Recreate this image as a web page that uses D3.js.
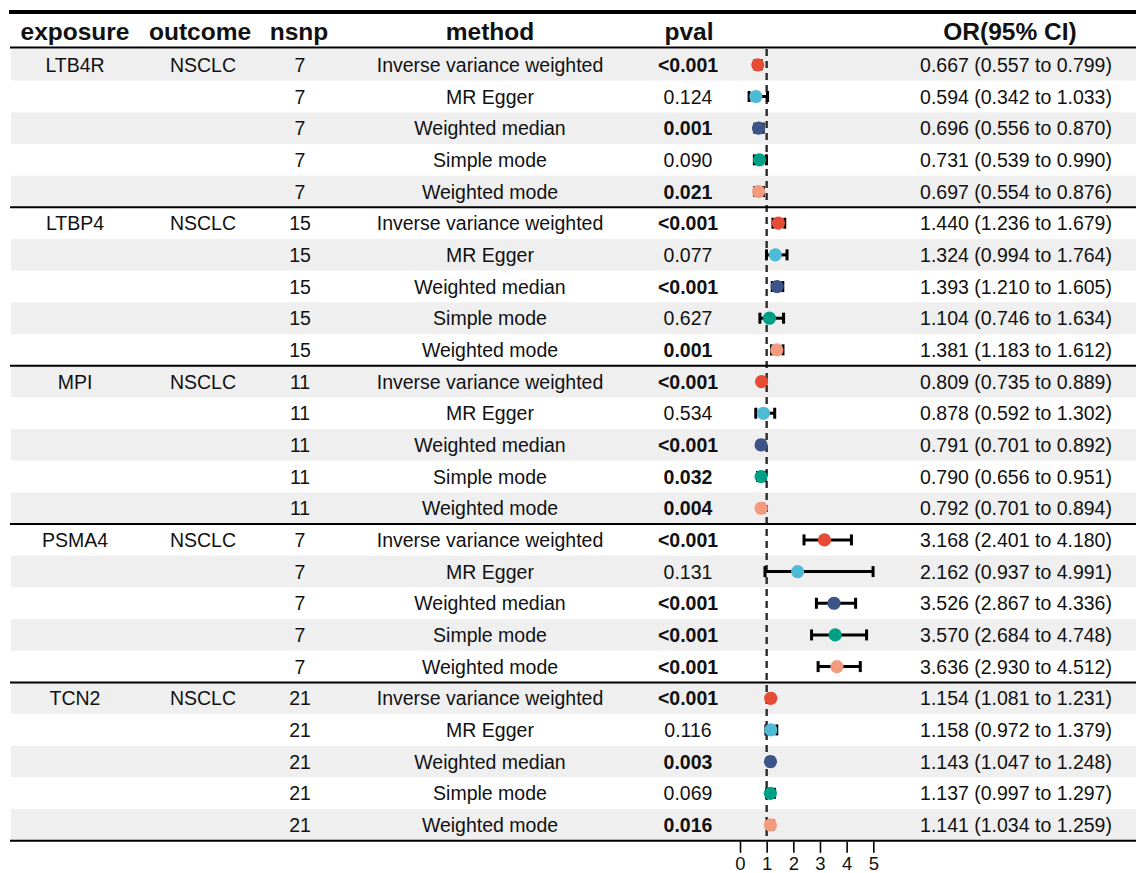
<!DOCTYPE html>
<html>
<head>
<meta charset="utf-8">
<script src="https://cdn.jsdelivr.net/npm/d3@7"></script>
<style>
  html, body { margin: 0; padding: 0; background: #fff; }
  svg { display: block; font-family: "Liberation Sans", Arial, Helvetica, sans-serif; }
</style>
</head>
<body>
<svg id="chart" width="1136" height="873"></svg>
<script>
// Mendelian randomization results: five exposures, five methods each
const exposures = ["LTB4R", "LTBP4", "MPI", "PSMA4", "TCN2"];
const outcomes = ["NSCLC", "NSCLC", "NSCLC", "NSCLC", "NSCLC"];
const nsnp = [7, 15, 11, 7, 21];
const methods = ["Inverse variance weighted", "MR Egger", "Weighted median", "Simple mode", "Weighted mode"];
const methodColors = ["#E64B35", "#4DBBD5", "#3C5488", "#00A087", "#F39B7F"];

const pvals = [
  "<0.001", "0.124", "0.001", "0.090", "0.021",
  "<0.001", "0.077", "<0.001", "0.627", "0.001",
  "<0.001", "0.534", "<0.001", "0.032", "0.004",
  "<0.001", "0.131", "<0.001", "<0.001", "<0.001",
  "<0.001", "0.116", "0.003", "0.069", "0.016"
];
const orValues = [
  0.667, 0.594, 0.696, 0.731, 0.697,
  1.440, 1.324, 1.393, 1.104, 1.381,
  0.809, 0.878, 0.791, 0.790, 0.792,
  3.168, 2.162, 3.526, 3.570, 3.636,
  1.154, 1.158, 1.143, 1.137, 1.141
];
const ciLower = [
  0.557, 0.342, 0.556, 0.539, 0.554,
  1.236, 0.994, 1.210, 0.746, 1.183,
  0.735, 0.592, 0.701, 0.656, 0.701,
  2.401, 0.937, 2.867, 2.684, 2.930,
  1.081, 0.972, 1.047, 0.997, 1.034
];
const ciUpper = [
  0.799, 1.033, 0.870, 0.990, 0.876,
  1.679, 1.764, 1.605, 1.634, 1.612,
  0.889, 1.302, 0.892, 0.951, 0.894,
  4.180, 4.991, 4.336, 4.748, 4.512,
  1.231, 1.379, 1.248, 1.297, 1.259
];
const xTicks = [0, 1, 2, 3, 4, 5];
const headers = ["exposure", "outcome", "nsnp", "method", "pval", "OR(95% CI)"];

// Build row records
const rows = [];
exposures.forEach((exp, g) => {
  methods.forEach((m, k) => {
    const i = g * methods.length + k;
    rows.push({
      i, g, k,
      exposure: k === 0 ? exp : "",
      outcome: k === 0 ? outcomes[g] : "",
      nsnp: String(nsnp[g]),
      method: m,
      pval: pvals[i],
      or: orValues[i], lo: ciLower[i], hi: ciUpper[i],
      color: methodColors[k]
    });
  });
});

const fmt = d3.format(".3f");
const orLabel = d => `${fmt(d.or)} (${fmt(d.lo)} to ${fmt(d.hi)})`;
const isSig = p => p.startsWith("<") || parseFloat(p) < 0.05;

const svg = d3.select("#chart");
const W = 1136;
const tableLeft = 10;
const tableTop = 49;
const tableBottom = 840.8;

const y = d3.scaleBand().domain(d3.range(rows.length)).range([tableTop, tableBottom]);
const x = d3.scaleLinear().domain([0, 5]).range([740, 873.3]);

// Column centres for the text columns
const colX = { exposure: 75, outcome: 203, nsnp: 300, method: 490, pval: 688, or: 1016 };
const headX = [75, 200, 299, 490, 689, 1010];

// Alternating row shading
svg.append("g").selectAll("rect")
  .data(rows)
  .join("rect")
  .attr("x", tableLeft + 1)
  .attr("y", d => y(d.i))
  .attr("width", W - tableLeft - 1)
  .attr("height", y.bandwidth())
  .attr("fill", d => d.i % 2 === 0 ? "#efefef" : "#ffffff");

// Header labels
svg.append("g").selectAll("text")
  .data(headers)
  .join("text")
  .attr("x", (d, j) => headX[j])
  .attr("y", 40)
  .attr("text-anchor", "middle")
  .attr("font-size", 24.5)
  .attr("font-weight", "bold")
  .attr("fill", "#111")
  .text(d => d);

// Table body text
const body = svg.append("g").attr("font-size", 19.5).attr("fill", "#111").attr("text-anchor", "middle");
const textCols = ["exposure", "outcome", "nsnp", "method"];
textCols.forEach(c => {
  body.append("g").selectAll("text")
    .data(rows.filter(r => r[c] !== ""))
    .join("text")
    .attr("x", colX[c])
    .attr("y", d => y(d.i) + y.bandwidth() / 2)
    .attr("dy", "0.36em")
    .text(d => d[c]);
});
body.append("g").selectAll("text")
  .data(rows)
  .join("text")
  .attr("x", colX.pval)
  .attr("y", d => y(d.i) + y.bandwidth() / 2)
  .attr("dy", "0.36em")
  .attr("font-weight", d => isSig(d.pval) ? "bold" : "normal")
  .text(d => d.pval);
body.append("g").selectAll("text")
  .data(rows)
  .join("text")
  .attr("x", colX.or)
  .attr("y", d => y(d.i) + y.bandwidth() / 2)
  .attr("dy", "0.36em")
  .text(d => orLabel(d));

// Reference line at OR = 1
svg.append("line")
  .attr("x1", x(1)).attr("x2", x(1))
  .attr("y1", tableTop).attr("y2", tableBottom)
  .attr("stroke", "#2b2b2b")
  .attr("stroke-width", 2.4)
  .attr("stroke-dasharray", "7,5");

// Confidence intervals with end caps
const ci = svg.append("g").attr("stroke", "#000").attr("stroke-width", 3);
const cy = d => y(d.i) + y.bandwidth() / 2;
ci.selectAll("line.bar")
  .data(rows)
  .join("line")
  .attr("class", "bar")
  .attr("x1", d => x(d.lo)).attr("x2", d => x(d.hi))
  .attr("y1", cy).attr("y2", cy);
ci.selectAll("line.capl")
  .data(rows)
  .join("line")
  .attr("class", "capl")
  .attr("x1", d => x(d.lo)).attr("x2", d => x(d.lo))
  .attr("y1", d => cy(d) - 5.5).attr("y2", d => cy(d) + 5.5);
ci.selectAll("line.caph")
  .data(rows)
  .join("line")
  .attr("class", "caph")
  .attr("x1", d => x(d.hi)).attr("x2", d => x(d.hi))
  .attr("y1", d => cy(d) - 5.5).attr("y2", d => cy(d) + 5.5);

// Point estimates
svg.append("g").selectAll("circle")
  .data(rows)
  .join("circle")
  .attr("cx", d => x(d.or))
  .attr("cy", cy)
  .attr("r", 6.6)
  .attr("fill", d => d.color);

// Horizontal rules: top, under header, between groups, bottom
svg.append("line")
  .attr("x1", tableLeft - 1).attr("x2", W)
  .attr("y1", 12).attr("y2", 12)
  .attr("stroke", "#000").attr("stroke-width", 4);
const ruleYs = [47.5].concat(exposures.map((e, g) => y((g + 1) * methods.length - 1) + y.bandwidth()));
svg.append("g").selectAll("line")
  .data(ruleYs)
  .join("line")
  .attr("x1", tableLeft).attr("x2", W)
  .attr("y1", d => d).attr("y2", d => d)
  .attr("stroke", "#000")
  .attr("stroke-width", 2);

// OR axis below the table
const axis = svg.append("g")
  .attr("transform", `translate(0,${tableBottom + 1})`)
  .call(d3.axisBottom(x).tickValues(xTicks).tickSize(11).tickPadding(4).tickFormat(d3.format("d")));
axis.select(".domain").remove();
axis.selectAll(".tick line").attr("stroke", "#000").attr("stroke-width", 1.6);
axis.selectAll(".tick text")
  .attr("fill", "#111")
  .attr("font-size", 18.5)
  .attr("font-family", "\"Liberation Sans\", Arial, Helvetica, sans-serif");
</script>
</body>
</html>
